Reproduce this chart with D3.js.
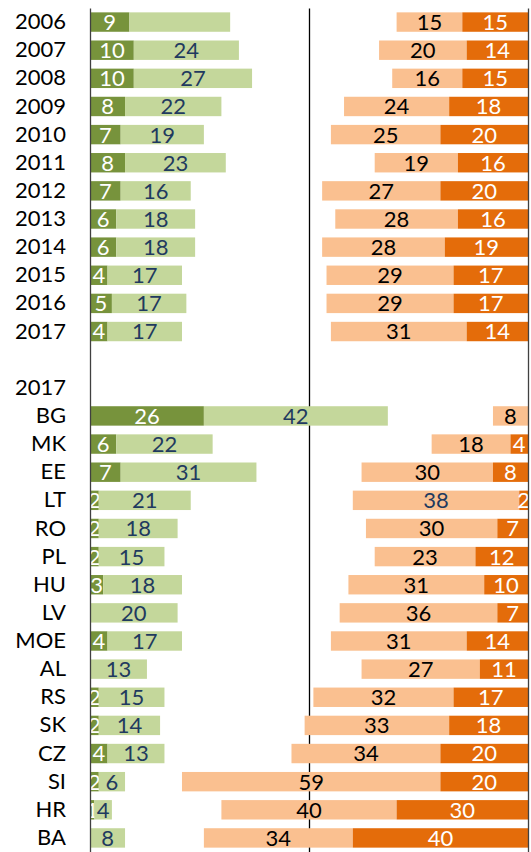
<!DOCTYPE html>
<html><head><meta charset="utf-8">
<script src="https://cdn.jsdelivr.net/npm/d3@7"></script>
<style>body{margin:0;background:#fff}svg{display:block}text{font-family:Lato,"Open Sans",sans-serif}</style>
</head><body>
<svg id="c" width="531" height="852"></svg>
<script>
const categories = ["2006","2007","2008","2009","2010","2011","2012","2013","2014","2015","2016","2017","","2017","BG","MK","EE","LT","RO","PL","HU","LV","MOE","AL","RS","SK","CZ","SI","HR","BA"];
const darkGreen   = [9,10,10,8,7,8,7,6,6,4,5,4,null,null,26,6,7,2,2,2,3,0,4,0,2,2,4,2,1,0];
const lightGreen  = [23,24,27,22,19,23,16,18,18,17,17,17,null,null,42,22,31,21,18,15,18,20,17,13,15,14,13,6,4,8];
const lightOrange = [15,20,16,24,25,19,27,28,28,29,29,31,null,null,8,18,30,38,30,23,31,36,31,27,32,33,34,59,40,34];
const darkOrange  = [15,14,15,18,20,16,20,16,19,17,17,14,null,null,0,4,8,2,7,12,10,7,14,11,17,18,20,20,30,40];
const hiddenLabels = [{series:"lightGreen", index:0}];
const navyLabels = [{series:"lightOrange", index:17}];

const svg = d3.select("#c");
const FS = 22;
const x = d3.scaleLinear().domain([0,100]).range([90,528]);
const idx = d3.range(categories.length);
const y = d3.scaleBand().domain(idx).range([8,852]).paddingInner(0.31).paddingOuter(0.155);

// middle reference line (behind bars)
const mid = svg.append("g").attr("transform",`translate(${x(50)},0)`)
  .call(d3.axisLeft(y).tickSize(0).tickFormat(""));
mid.select(".domain").attr("stroke","#000").attr("stroke-width",1.3);

const series = [
  {key:"darkGreen", vals:darkGreen, fill:"#77933C", text:"#ffffff", x0:(i)=>0, x1:(i)=>darkGreen[i]},
  {key:"lightGreen", vals:lightGreen, fill:"#C4D79B", text:"#1F3A5F", x0:(i)=>darkGreen[i], x1:(i)=>darkGreen[i]+lightGreen[i]},
  {key:"lightOrange", vals:lightOrange, fill:"#FAC090", text:"#000000", x0:(i)=>100-darkOrange[i]-lightOrange[i], x1:(i)=>100-darkOrange[i]},
  {key:"darkOrange", vals:darkOrange, fill:"#E46C0A", text:"#ffffff", x0:(i)=>100-darkOrange[i], x1:(i)=>100}
];

series.forEach(s=>{
  const rows = idx.filter(i=>s.vals[i]!=null && s.vals[i]>0);
  const g = svg.append("g");
  g.selectAll("rect").data(rows).join("rect")
    .attr("x", i=>x(s.x0(i)))
    .attr("width", i=>x(s.x1(i))-x(s.x0(i)))
    .attr("y", i=>y(i))
    .attr("height", y.bandwidth())
    .attr("fill", s.fill);
  const lab = rows.filter(i=>!hiddenLabels.some(h=>h.series===s.key && h.index===i));
  g.selectAll("text").data(lab).join("text")
    .attr("x", i=>(x(s.x0(i))+x(s.x1(i)))/2)
    .attr("y", i=>y(i)+y.bandwidth()/2)
    .attr("dy","0.36em")
    .attr("text-anchor","middle")
    .attr("font-size", FS)
    .attr("fill", i=>navyLabels.some(h=>h.series===s.key && h.index===i) ? "#1F3A5F" : s.text)
    .text(i=>s.vals[i]);
});

// category axis
const ax = svg.append("g").attr("transform",`translate(${x(0)},0)`)
  .call(d3.axisLeft(y).tickSize(0).tickPadding(24).tickFormat(i=>categories[i]));
ax.select(".domain").attr("stroke","#404040").attr("stroke-width",1.3);
ax.selectAll("text").attr("font-size",FS).attr("fill","#000").attr("font-family","Lato");

// right reference line
const rt = svg.append("g").attr("transform",`translate(${x(100)},0)`)
  .call(d3.axisLeft(y).tickSize(0).tickFormat(""));
rt.select(".domain").attr("stroke","#404040").attr("stroke-width",1.3);
</script>
</body></html>
